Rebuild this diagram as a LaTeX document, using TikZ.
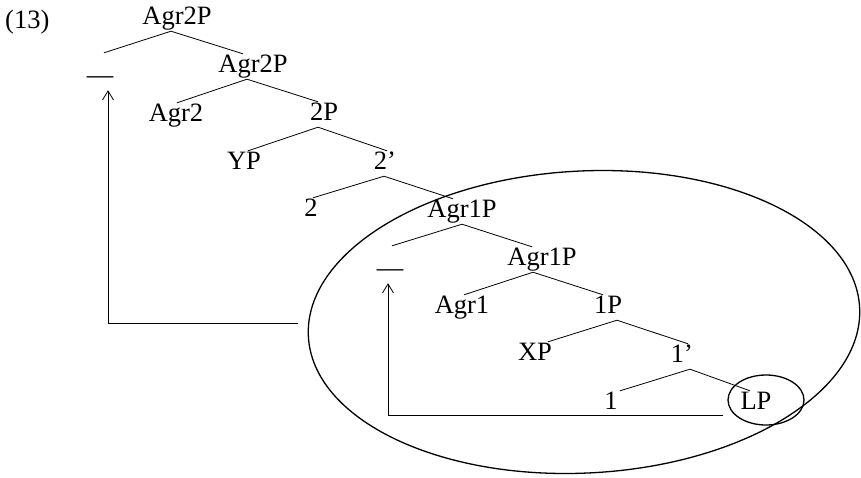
\documentclass[tikz,border=0pt]{standalone}
\usepackage{fontspec}
\setmainfont{Liberation Serif}
\usetikzlibrary{calc, shapes, arrows.meta}

\tikzset{
  cat/.style={anchor=base, inner sep=1pt, text height=17pt, text depth=6pt,
    font=\fontsize{26.5}{30}\selectfont},
  trace/.style={cat, text height=29pt},
  branch/.style={line width=0.8pt},
  move/.style={line width=0.8pt, -{Straight Barb[length=9pt,width=11pt,line width=0.8pt]}},
  ring/.style={line width=1.3pt}
}

\begin{document}
\begin{tikzpicture}[x=1pt, y=-1pt]
\useasboundingbox (0,0) rectangle (861,477);
%Example number
\node [anchor=base west, inner sep=0pt, font=\fontsize{26.5}{30}\selectfont] (exnum) at (5,28) {(13)};
%Upper part of the tree
\node [cat] (agr2p) at (177,24) {Agr2P};
\node [trace] (trace2) at (100,83) {—};
\node [cat] (agr2pbar) at (253,72) {Agr2P};
\node [cat] (agr2) at (176,121) {Agr2};
\node [cat] (twop) at (324,120) {2P};
\node [cat] (yp) at (244,169) {YP};
\node [cat] (twobar) at (385,169) {2’};
\node [cat] (two) at (311,216) {2};
%Lower part of the tree (inside the big ring)
\node [cat] (agr1p) at (462,217) {Agr1P};
\node [trace] (trace1) at (390,276) {—};
\node [cat] (agr1pbar) at (542,265) {Agr1P};
\node [cat] (agr1) at (462,313) {Agr1};
\node [cat] (onep) at (608,313) {1P};
\node [cat] (xp) at (535,360) {XP};
\node [cat] (onebar) at (682,362) {1’};
\node [cat] (one) at (611,409) {1};
\node [cat] (lp) at (756,409) {LP};
%Branches
\draw [branch] ([xshift=-6]agr2p.south) -- ([xshift=4]trace2.north);
\draw [branch] ([xshift=-6]agr2p.south) -- ([xshift=-10]agr2pbar.north);
\draw [branch] ([xshift=-6]agr2pbar.south) -- ([xshift=1]agr2.north);
\draw [branch] ([xshift=-6]agr2pbar.south) -- ([xshift=-6]twop.north);
\draw [branch] ([xshift=-6]twop.south) -- ([xshift=4]yp.north);
\draw [branch] ([xshift=-6]twop.south) -- ([xshift=2]twobar.north);
\draw [branch] ([xshift=-1]twobar.south) -- ([xshift=2]two.north);
\draw [branch] ([xshift=-1]twobar.south) -- ([xshift=-9]agr1p.north);
\draw [branch] (agr1p.south) -- ([xshift=2]trace1.north);
\draw [branch] (agr1p.south) -- ([xshift=-10]agr1pbar.north);
\draw [branch] ([xshift=-9]agr1pbar.south) -- ([xshift=2]agr1.north);
\draw [branch] ([xshift=-9]agr1pbar.south) -- ([xshift=-5]onep.north);
\draw [branch] ([xshift=9]onep.south) -- ([xshift=13]xp.north);
\draw [branch] ([xshift=9]onep.south) -- ([xshift=6]onebar.north);
\draw [branch] ([xshift=8]onebar.south) -- ([xshift=9]one.north);
\draw [branch] ([xshift=8]onebar.south) -- ([xshift=-6]lp.north);
%Rings
\coordinate (bigc) at (584,322);
\draw [ring, rotate around={3:(bigc)}] (bigc) ellipse [x radius=276pt, y radius=151pt];
\coordinate (smallc) at (766,400);
\draw [ring] (smallc) ellipse [x radius=38pt, y radius=25pt];
%Movement arrows
\coordinate (exit2) at (298,323);
\coordinate (exit1) at (723,415);
\draw [move] (exit2) -| ([xshift=8]trace2.south);
\draw [move] (exit1) -| ([xshift=-2]trace1.south);
\end{tikzpicture}
\end{document}
